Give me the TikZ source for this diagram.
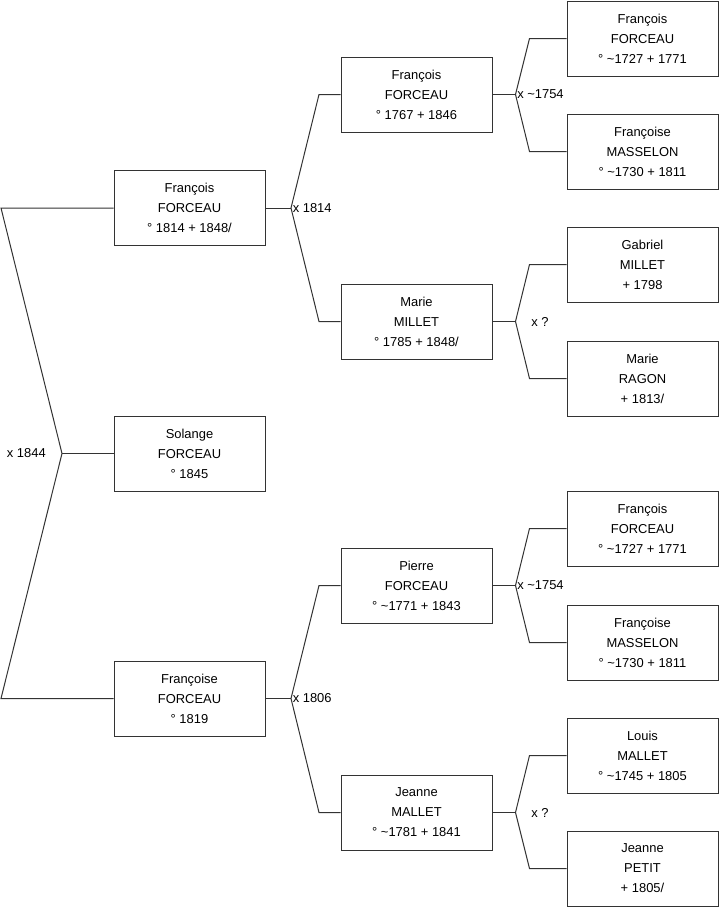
\documentclass[tikz,border=0pt]{standalone}
\usepackage{fontspec}
\setmainfont{Liberation Sans}
\begin{document}
\begin{tikzpicture}[x=0.75pt,y=-0.75pt,
  person/.style={draw=black!80,line width=0.75pt,minimum width=113.25pt,minimum height=56.25pt,
    align=center,inner sep=0pt,font=\fontsize{9.7}{15}\selectfont},
  link/.style={draw=black!80,line width=0.75pt},
  lab/.style={font=\fontsize{9.7}{11}\selectfont,inner sep=0pt}]
\useasboundingbox (0,0) rectangle (719,908);
% generation 1
\node[person] (g1a) at (189.5,208) {François\\FORCEAU\\° 1814 + 1848/};
\node[person] (g1b) at (189.5,453.5) {Solange\\FORCEAU\\° 1845};
\node[person] (g1c) at (189.5,698.5) {Françoise\\FORCEAU\\° 1819};
% generation 2
\node[person] (g2a) at (416.5,94.5) {François\\FORCEAU\\° 1767 + 1846};
\node[person] (g2b) at (416.5,321.5) {Marie\\MILLET\\° 1785 + 1848/};
\node[person] (g2c) at (416.5,585.5) {Pierre\\FORCEAU\\° \textasciitilde1771 + 1843};
\node[person] (g2d) at (416.5,812.5) {Jeanne\\MALLET\\° \textasciitilde1781 + 1841};
% generation 3
\node[person] (g3a) at (642.5,38.5) {François\\FORCEAU\\° \textasciitilde1727 + 1771};
\node[person] (g3b) at (642.5,151.5) {Françoise\\MASSELON\\° \textasciitilde1730 + 1811};
\node[person] (g3c) at (642.5,264.5) {Gabriel\\MILLET\\ + 1798};
\node[person] (g3d) at (642.5,378.5) {Marie\\RAGON\\+ 1813/};
\node[person] (g3e) at (642.5,528.5) {François\\FORCEAU\\° \textasciitilde1727 + 1771};
\node[person] (g3f) at (642.5,642.5) {Françoise\\MASSELON\\° \textasciitilde1730 + 1811};
\node[person] (g3g) at (642.5,755.5) {Louis\\MALLET\\° \textasciitilde1745 + 1805};
\node[person] (g3h) at (642.5,868.5) {Jeanne\\PETIT\\+ 1805/};
% left bracket
\coordinate (L1) at (1,208);
\coordinate (L2) at (1,698.5);
\coordinate (V0) at (62,453.5);
\draw[link] (g1a.west) -- (L1) -- (V0) -- (L2) -- (g1c.west);
\draw[link] (V0) -- (g1b.west);
\node[lab,anchor=east] (m0) at (46,453.5) {x 1844};
% gen1 -> gen2
\coordinate (V1) at (291,208);
\coordinate (V1a) at (319,94.5);
\coordinate (V1b) at (319,321.5);
\draw[link] (g1a.east) -- (V1);
\draw[link] (g2a.west) -- (V1a) -- (V1) -- (V1b) -- (g2b.west);
\node[lab,anchor=west] (m1) at (292.5,208) {x 1814};
\coordinate (V2) at (291,698.5);
\coordinate (V2a) at (319,585.5);
\coordinate (V2b) at (319,812.5);
\draw[link] (g1c.east) -- (V2);
\draw[link] (g2c.west) -- (V2a) -- (V2) -- (V2b) -- (g2d.west);
\node[lab,anchor=west] (m2) at (292.5,698.5) {x 1806};
% gen2 -> gen3
\coordinate (V3) at (515.5,94.5);
\coordinate (V3a) at (529.5,38.5);
\coordinate (V3b) at (529.5,151.5);
\draw[link] (g2a.east) -- (V3);
\draw[link] (g3a.west) -- (V3a) -- (V3) -- (V3b) -- (g3b.west);
\node[lab,anchor=west] (m3) at (517,94.5) {x \textasciitilde1754};
\coordinate (V4) at (515.5,321.5);
\coordinate (V4a) at (529.5,264.5);
\coordinate (V4b) at (529.5,378.5);
\draw[link] (g2b.east) -- (V4);
\draw[link] (g3c.west) -- (V4a) -- (V4) -- (V4b) -- (g3d.west);
\node[lab,anchor=west] (m4) at (531,321.5) {x ?};
\coordinate (V5) at (515.5,585.5);
\coordinate (V5a) at (529.5,528.5);
\coordinate (V5b) at (529.5,642.5);
\draw[link] (g2c.east) -- (V5);
\draw[link] (g3e.west) -- (V5a) -- (V5) -- (V5b) -- (g3f.west);
\node[lab,anchor=west] (m5) at (517,585.5) {x \textasciitilde1754};
\coordinate (V6) at (515.5,812.5);
\coordinate (V6a) at (529.5,755.5);
\coordinate (V6b) at (529.5,868.5);
\draw[link] (g2d.east) -- (V6);
\draw[link] (g3g.west) -- (V6a) -- (V6) -- (V6b) -- (g3h.west);
\node[lab,anchor=west] (m6) at (531,812.5) {x ?};
\end{tikzpicture}
\end{document}
